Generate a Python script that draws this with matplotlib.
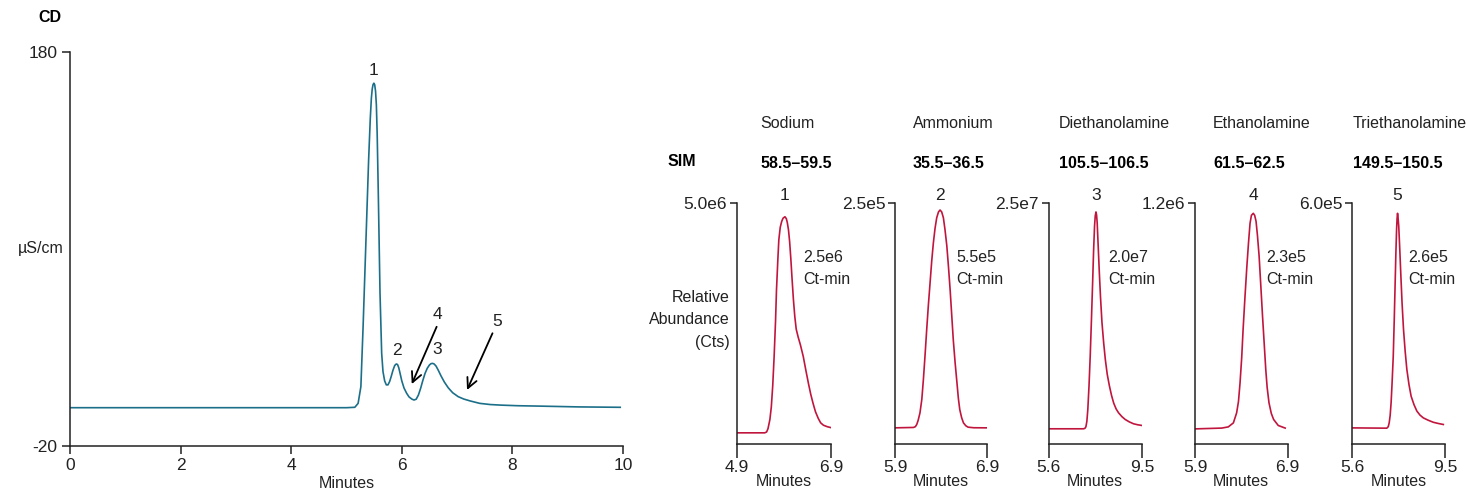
import matplotlib
matplotlib.use("Agg")
import matplotlib.pyplot as plt

plt.rcParams['font.family'] = ['Liberation Sans', 'DejaVu Sans']

W, H = 1466, 495

# conductivity trace (minutes, uS/cm)
cd_time = [0.0, 2.0, 4.0, 5.0, 5.15, 5.21, 5.26, 5.30, 5.35, 5.40, 5.43, 5.45, 5.465,
           5.48, 5.495, 5.51, 5.525, 5.54, 5.555, 5.575, 5.606, 5.636, 5.66, 5.69, 5.72,
           5.75, 5.78, 5.81, 5.84, 5.87, 5.89, 5.907, 5.925, 5.945, 5.97, 6.0, 6.04,
           6.088, 6.13, 6.18, 6.22, 6.26, 6.30, 6.34, 6.38, 6.42, 6.46, 6.50, 6.53,
           6.557, 6.585, 6.62, 6.66, 6.71, 6.77, 6.84, 6.92, 7.02, 7.12, 7.24, 7.41,
           7.6, 7.8, 8.1, 8.5, 9.2, 9.95]
cd_signal = [-0.8, -0.8, -0.8, -0.8, -0.6, 1.4, 9.9, 40.3, 82.7, 125.0, 146.0, 156.5, 161.0,
             163.3, 164.0, 163.2, 160.0, 153.0, 138.0, 108.1, 57.3, 26.8, 17.5, 12.8, 10.8,
             10.8, 12.5, 15.2, 18.2, 20.5, 21.2, 21.4, 21.0, 19.5, 16.5, 12.8, 9.2,
             6.5, 4.7, 3.6, 3.1, 3.5, 5.6, 9.0, 13.0, 16.6, 19.2, 20.9, 21.6,
             21.7, 21.4, 20.3, 18.2, 15.3, 12.2, 9.3, 6.8, 4.8, 3.6, 2.6, 1.4,
             0.8, 0.5, 0.2, 0.0, -0.4, -0.6]

peak_labels = ["1", "2", "3"]
peak_label_x = [5.48, 5.91, 6.64]
peak_label_y = [170.7, 28.5, 29.0]

arrow_labels = ["4", "5"]
arrow_tail = [(6.63, 40.3), (7.64, 37.0)]
arrow_head = [(6.18, 11.2), (7.18, 8.2)]
arrow_label_pos = [(6.65, 46.3), (7.72, 42.9)]

# SIM panels
analytes = ["Sodium", "Ammonium", "Diethanolamine", "Ethanolamine", "Triethanolamine"]
mass_ranges = ["58.5\u201359.5", "35.5\u201336.5", "105.5\u2013106.5", "61.5\u201362.5", "149.5\u2013150.5"]
y_top = [5.0e6, 2.5e5, 2.5e7, 1.2e6, 6.0e5]
y_top_labels = ["5.0e6", "2.5e5", "2.5e7", "1.2e6", "6.0e5"]
x_ranges = [(4.9, 6.9), (5.9, 6.9), (5.6, 9.5), (5.9, 6.9), (5.6, 9.5)]
x_labels = [("4.9", "6.9"), ("5.9", "6.9"), ("5.6", "9.5"), ("5.9", "6.9"), ("5.6", "9.5")]
areas = ["2.5e6", "5.5e5", "2.0e7", "2.3e5", "2.6e5"]

sim_time = [
    [4.9, 5.49, 5.53, 5.56, 5.60, 5.63, 5.66, 5.69, 5.72, 5.74, 5.77, 5.79, 5.82, 5.85,
     5.88, 5.92, 5.95, 5.97, 5.995, 6.02, 6.045, 6.07, 6.10, 6.13, 6.16, 6.20,
     6.25, 6.31, 6.36, 6.42, 6.47, 6.52, 6.57, 6.63, 6.68, 6.74, 6.82, 6.9],
    [5.9, 6.099, 6.12, 6.135, 6.15, 6.17, 6.19, 6.207, 6.225, 6.243, 6.26, 6.279, 6.297,
     6.315, 6.333, 6.351, 6.37, 6.387, 6.405, 6.423, 6.44, 6.46, 6.478, 6.496, 6.513,
     6.53, 6.55, 6.57, 6.585, 6.60, 6.62, 6.64, 6.665, 6.69, 6.75, 6.886],
    [5.6, 7.06, 7.12, 7.16, 7.20, 7.24, 7.29, 7.34, 7.39, 7.44, 7.48, 7.52, 7.55, 7.58,
     7.605, 7.63, 7.67, 7.72, 7.77, 7.83, 7.90, 7.97, 8.05, 8.14, 8.23, 8.32,
     8.42, 8.52, 8.66, 8.80, 8.97, 9.15, 9.32, 9.5],
    [5.9, 6.189, 6.26, 6.315, 6.35, 6.37, 6.387, 6.405, 6.42, 6.44, 6.46, 6.478, 6.495,
     6.51, 6.53, 6.545, 6.56, 6.575, 6.593, 6.61, 6.63, 6.648, 6.665, 6.68, 6.70,
     6.725, 6.75, 6.80, 6.875],
    [5.6, 7.06, 7.12, 7.16, 7.20, 7.24, 7.28, 7.33, 7.37, 7.41, 7.44, 7.47, 7.49, 7.51,
     7.53, 7.56, 7.60, 7.65, 7.70, 7.76, 7.83, 7.90, 7.99, 8.08, 8.2, 8.32,
     8.45, 8.59, 8.8, 9.01, 9.22, 9.43],
]
sim_counts = [
    [0.222e6, 0.222e6, 0.24e6, 0.31e6, 0.50e6, 0.76e6, 1.20e6, 1.81e6, 2.55e6, 3.19e6,
     3.85e6, 4.24e6, 4.50e6, 4.62e6, 4.69e6, 4.72e6, 4.68e6, 4.60e6, 4.45e6, 4.20e6,
     3.85e6, 3.45e6, 3.00e6, 2.64e6, 2.38e6, 2.22e6, 2.05e6, 1.81e6, 1.55e6, 1.25e6,
     1.02e6, 0.83e6, 0.66e6, 0.52e6, 0.43e6, 0.38e6, 0.35e6, 0.33e6],
    [0.163e5, 0.167e5, 0.175e5, 0.198e5, 0.24e5, 0.319e5, 0.46e5, 0.667e5, 0.92e5, 1.19e5,
     1.43e5, 1.67e5, 1.90e5, 2.09e5, 2.24e5, 2.35e5, 2.41e5, 2.43e5, 2.41e5, 2.35e5,
     2.23e5, 2.06e5, 1.84e5, 1.60e5, 1.34e5, 1.08e5, 0.84e5, 0.63e5, 0.47e5, 0.354e5,
     0.27e5, 0.215e5, 0.185e5, 0.17e5, 0.164e5, 0.163e5],
    [0.153e7, 0.153e7, 0.158e7, 0.174e7, 0.23e7, 0.354e7, 0.60e7, 0.91e7, 1.28e7, 1.67e7,
     2.00e7, 2.26e7, 2.37e7, 2.41e7, 2.38e7, 2.30e7, 2.07e7, 1.78e7, 1.52e7, 1.26e7,
     1.05e7, 0.875e7, 0.72e7, 0.60e7, 0.50e7, 0.42e7, 0.36e7, 0.32e7, 0.28e7, 0.25e7,
     0.225e7, 0.205e7, 0.195e7, 0.1875e7],
    [0.073e6, 0.077e6, 0.083e6, 0.103e6, 0.153e6, 0.21e6, 0.303e6, 0.43e6, 0.57e6, 0.73e6,
     0.88e6, 1.00e6, 1.10e6, 1.14e6, 1.15e6, 1.14e6, 1.11e6, 1.04e6, 0.937e6, 0.80e6,
     0.637e6, 0.50e6, 0.37e6, 0.28e6, 0.203e6, 0.15e6, 0.12e6, 0.09e6, 0.077e6],
    [0.39e5, 0.383e5, 0.42e5, 0.517e5, 0.70e5, 1.02e5, 1.50e5, 2.18e5, 3.05e5, 4.02e5,
     4.75e5, 5.35e5, 5.62e5, 5.75e5, 5.65e5, 5.43e5, 4.90e5, 4.18e5, 3.50e5, 2.85e5,
     2.30e5, 1.85e5, 1.47e5, 1.18e5, 0.97e5, 0.81e5, 0.71e5, 0.64e5, 0.58e5, 0.53e5,
     0.50e5, 0.475e5],
]

teal = "#1c6f89"
red = "#c0163e"
ink = "#222222"
fs = 11.5


def fx(px):
    return px / W


def fy(py):
    return 1 - py / H


fig = plt.figure(figsize=(W / 100, H / 100), dpi=100)

# ---- conductivity chromatogram
ax = fig.add_axes([fx(70), fy(445.5), (623 - 70) / W, (445.5 - 51.7) / H])
ax.plot(cd_time, cd_signal, color=teal, lw=1.2, solid_joinstyle="round")
ax.set_xlim(0, 10)
ax.set_ylim(-20, 180)
ax.set_xticks([0, 2, 4, 6, 8, 10])
ax.set_yticks([-20, 180])
ax.set_yticklabels(["-20", "180"])
for s in ["top", "right"]:
    ax.spines[s].set_visible(False)
for s in ["left", "bottom"]:
    ax.spines[s].set_color(ink)
    ax.spines[s].set_linewidth(1.1)
ax.tick_params(direction="out", length=6, width=1.1, color=ink, labelsize=fs + 1, labelcolor=ink, pad=3)
ax.set_xlabel("Minutes", fontsize=fs, color=ink, labelpad=2)
ax.patch.set_visible(False)

for lab, x, y in zip(peak_labels, peak_label_x, peak_label_y):
    ax.text(x, y, lab, ha="center", va="center", fontsize=fs + 1, color=ink)
for lab, tail, head, pos in zip(arrow_labels, arrow_tail, arrow_head, arrow_label_pos):
    ax.annotate("", xy=head, xytext=tail,
                arrowprops=dict(arrowstyle="->", color="black", lw=1.3,
                                mutation_scale=18, shrinkA=0, shrinkB=0))
    ax.text(pos[0], pos[1], lab, ha="center", va="center", fontsize=fs + 1, color=ink)

fig.text(fx(38), fy(18), "CD", fontsize=fs, fontweight="bold", ha="left", va="center", color="black")
fig.text(fx(64), fy(248), "\u00b5S/cm", fontsize=fs, ha="right", va="center", color=ink)

# ---- SIM panels
panel_left = [737, 895, 1048.5, 1195, 1352]
panel_width = [94, 92.5, 93.5, 92.5, 93]
title_x = [760, 913, 1059, 1213, 1353]
peak_num_x = [785, 940, 1096, 1253, 1397]
area_x = [803, 956, 1108, 1266, 1408]

for i in range(5):
    a = fig.add_axes([fx(panel_left[i]), fy(443.5), panel_width[i] / W, (443.5 - 203.3) / H])
    a.plot(sim_time[i], sim_counts[i], color=red, lw=1.2, solid_joinstyle="round")
    a.set_xlim(*x_ranges[i])
    a.set_ylim(0, y_top[i])
    a.set_xticks(list(x_ranges[i]))
    a.set_xticklabels(list(x_labels[i]))
    a.set_yticks([y_top[i]])
    a.set_yticklabels([y_top_labels[i]])
    for s in ["top", "right"]:
        a.spines[s].set_visible(False)
    for s in ["left", "bottom"]:
        a.spines[s].set_color(ink)
        a.spines[s].set_linewidth(1.1)
    a.tick_params(axis="y", direction="out", length=5, width=1.1, color=ink,
                  labelsize=fs + 1, labelcolor=ink, pad=2)
    a.tick_params(axis="x", direction="out", length=10, width=1.1, color=ink,
                  labelsize=fs + 1, labelcolor=ink, pad=2)
    a.patch.set_visible(False)

    fig.text(fx(title_x[i]), fy(123), analytes[i], fontsize=fs, ha="left", va="center", color=ink)
    fig.text(fx(title_x[i]), fy(163), mass_ranges[i], fontsize=fs, fontweight="bold",
             ha="left", va="center", color="black")
    fig.text(fx(peak_num_x[i]), fy(196), str(i + 1), fontsize=fs + 1, ha="center", va="center", color=ink)
    fig.text(fx(area_x[i]), fy(258), areas[i], fontsize=fs, ha="left", va="center", color=ink)
    fig.text(fx(area_x[i]), fy(280), "Ct-min", fontsize=fs, ha="left", va="center", color=ink)
    fig.text(fx(panel_left[i] + panel_width[i] / 2), fy(481), "Minutes", fontsize=fs,
             ha="center", va="center", color=ink)

fig.text(fx(668), fy(161), "SIM", fontsize=fs, fontweight="bold", ha="left", va="center", color="black")
fig.text(fx(730), fy(320), "Relative\nAbundance\n(Cts)", fontsize=fs, ha="right", va="center",
         color=ink, linespacing=1.6)

fig.savefig("out.png", dpi=100)
